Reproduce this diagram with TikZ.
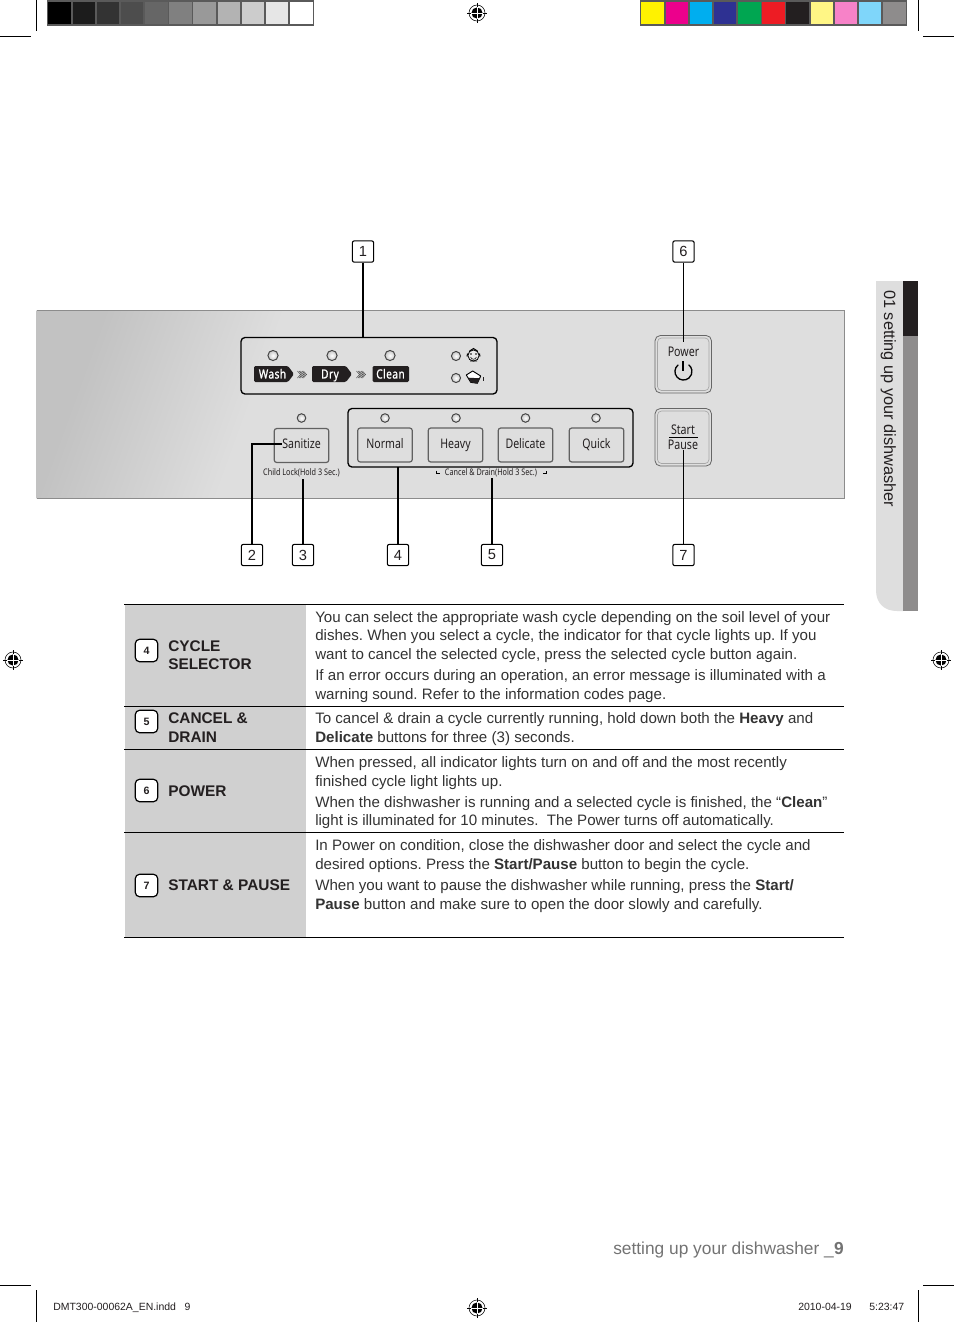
\documentclass[tikz,border=0pt]{standalone}
\usepackage{fontspec}
\setmainfont{Liberation Sans}
\newfontfamily\panelfont[FakeStretch=0.8]{Noto Sans}
\newfontfamily\tagfont[FakeStretch=0.8,FakeBold=1.2,LetterSpace=4]{Noto Sans}
\definecolor{txt}{HTML}{333333}
\definecolor{rowgray}{HTML}{D0D0D0}
\definecolor{panelgray}{HTML}{DEDEDE}
\definecolor{paneldark}{HTML}{C2C2C2}
\definecolor{inkdark}{HTML}{231F20}
\definecolor{stripgray}{HTML}{8E8C8C}
\definecolor{barframe}{HTML}{5A5A5A}
\pgfdeclarehorizontalshading{panelshade}{100bp}{color(0bp)=(paneldark); color(30bp)=(paneldark); color(62bp)=(panelgray); color(100bp)=(panelgray)}
\tikzset{
  body/.style={anchor=base west,inner sep=0pt,text=txt,font=\fontsize{11.33}{13}\selectfont\frenchspacing},
  head/.style={anchor=base west,inner sep=0pt,text=inkdark,font=\fontsize{11.55}{13}\selectfont\bfseries},
  slug/.style={anchor=base west,inner sep=0pt,text=inkdark,font=\fontsize{7.85}{9}\selectfont},
  numbox/.style={draw=black,line width=.8pt,rounded corners=1.5pt,minimum width=16pt,minimum height=16pt,inner sep=0pt,fill=white,font=\fontsize{11}{12}\selectfont,text=inkdark},
  rowbox/.style={draw=black,line width=.9pt,rounded corners=3.5pt,minimum width=17pt,minimum height=17pt,inner sep=0pt,fill=white,font=\fontsize{8}{9}\selectfont\bfseries,text=inkdark},
  panelbox/.style={draw=black,line width=1pt,rounded corners=3pt},
  btn/.style={draw=black!62,line width=.9pt,fill=panelgray,rounded corners=2pt,minimum width=41pt,minimum height=25.5pt,inner sep=0pt,text height=7.2pt,text depth=2pt,font=\panelfont\fontsize{9.9}{10}\selectfont,text=inkdark},
  led/.style={draw=black!72,line width=.75pt,inner color=white,outer color=black!22,circle,inner sep=0pt},
  bigled/.style={led,minimum size=7.6pt},
  smallled/.style={led,minimum size=6.4pt},
  tagtxt/.style={inner sep=0pt,text=white,text height=7pt,text depth=1.8pt,font=\tagfont\fontsize{9.4}{9}\selectfont},
  tiny/.style={inner sep=0pt,text=inkdark,font=\panelfont\fontsize{6.8}{7}\selectfont},
  lead/.style={draw=black,line width=1.1pt},
  thinlead/.style={draw=black,line width=.5pt},
  crop/.style={draw=black,line width=.5pt},
  rule/.style={draw=black,line width=.6pt},
}
\newcommand{\regmark}[2]{%
  \begin{scope}[shift={(#1,#2)}]
    \draw[line width=.4pt] (0,0) circle (8);
    \fill[black] (0,0) circle (5.6);
    \draw[white,line width=.5pt] (-5.6,0) -- (5.6,0) (0,-5.6) -- (0,5.6);
    \draw[line width=.4pt] (-10,0) -- (-5.6,0) (5.6,0) -- (10,0) (0,-10) -- (0,-5.6) (0,5.6) -- (0,10);
  \end{scope}}
\newcommand{\chev}[2]{%
  \begin{scope}[shift={(#1,#2)}]
    \foreach \dx in {0,1.5,3,4.5,6}{\draw[line width=.3pt,black!80] (-4.5+\dx,-3.5) -- (-1.5+\dx,0) -- (-4.5+\dx,3.5);}
  \end{scope}}
\begin{document}
\begin{tikzpicture}[x=.75pt,y=-.75pt]
\useasboundingbox (0,0) rectangle (954,1322);
\fill[white] (0,0) rectangle (954,1322);
% crop marks
\draw[crop] (36,0) -- (36,31) (0,36) -- (31,36) (918,0) -- (918,31) (923,36) -- (954,36)
  (36,1290) -- (36,1322) (0,1285) -- (31,1285) (918,1290) -- (918,1322) (923,1285) -- (954,1285);
% grey bar
\fill[barframe] (47,0) rectangle (314,25.5);
\foreach \a/\b/\c in {47.7/71/000000,73/95/1C1C1C,97/119/333333,121/143/4D4D4D,145/168/666666,169/192/808080,193/216/999999,218/240/B3B3B3,242/264/CCCCCC,266/288/E6E6E6,290/313/FFFFFF}{
  \definecolor{cc}{HTML}{\c}\fill[cc] (\a,2) rectangle (\b,24);}
% colour bar
\fill[barframe] (640,0) rectangle (907,25.5);
\foreach \a/\b/\c in {641/663.7/FFF200,665.7/687.7/EC008C,689.7/712/00AEEF,713.7/736/2E3192,737.7/761/00A651,761.7/785/ED1C24,785.7/809/231F20,811/833/FFF685,835/857/F782C8,859/881/7FD6FA,883/906/8E8C8C}{
  \definecolor{cc}{HTML}{\c}\fill[cc] (\a,2) rectangle (\b,24);}
\regmark{477}{13}\regmark{13}{660}\regmark{941}{660}\regmark{477}{1308}
% side tab
\fill[panelgray] (876,281) -- (903,281) -- (903,611) -- (897,611) .. controls (884,611) and (876,603) .. (876,590) -- cycle;
\fill[stripgray] (903,336) rectangle (918,611);
\fill[inkdark] (903,281) rectangle (918,336);
\node[rotate=-90,anchor=base west,inner sep=0pt,text=inkdark,font=\fontsize{12.25}{13}\selectfont] (tabtext) at (884,290) {01 setting up your dishwasher};
% panel
\shade[shading=panelshade,shading angle=-20] (36.5,310) rectangle (330,498.5);
\fill[panelgray] (330,310) rectangle (844,498.5);
\draw[black!45,line width=.5pt] (36.5,310) -- (844,310) -- (844,498.5) -- (36.5,498.5);
% leaders behind
\node[numbox] (n1) at (363,251.5) {1};
\node[numbox] (n6) at (683.5,251.5) {6};
\node[numbox] (n2) at (252,555) {2};
\node[numbox] (n3) at (303,555) {3};
\node[numbox] (n4) at (398,555) {4};
\node[numbox] (n5) at (492,555) {5};
\node[numbox] (n7) at (683.5,555) {7};
% upper panel
\draw[panelbox] (241,337.5) rectangle (497,394);
\draw[panelbox] (348,408.5) rectangle (633,467);
\coordinate (p1) at (363,337.5);
\draw[lead] (n1) -- (p1);
% status row
\node[bigled] (l1) at (273,355.5) {};
\node[bigled] (l2) at (332,355.5) {};
\node[bigled] (l3) at (390,355.5) {};
\node[smallled,minimum size=6.8pt] (l4) at (456,356) {};
\node[smallled,minimum size=6.8pt] (l5) at (456,378) {};
\fill[inkdark,rounded corners=1pt] (254,366) -- (288,366) -- (294,374) -- (288,382) -- (254,382) -- cycle;
\fill[inkdark,rounded corners=1pt] (312,366) -- (346,366) -- (352,374) -- (346,382) -- (312,382) -- cycle;
\fill[inkdark,rounded corners=1pt] (372.5,366) rectangle (409,382);
\node[tagtxt] (wash) at (272.5,375) {Wash};
\node[tagtxt] (dry) at (330,375) {Dry};
\node[tagtxt] (clean) at (390.5,375) {Clean};
\chev{302}{374.5}\chev{361}{374.5}
% baby icon
\draw[black,line width=.6pt,fill=white!92!black] (473.5,355.5) circle (5.6);
\draw[black,line width=.4pt] (471,354) circle (.6) (476,354) circle (.6) (470.5,357) .. controls (472,360) and (475,360) .. (476.5,357);
\draw[black,line width=.7pt] (467.5,353.5) -- (467,356.5) (479.5,353.5) -- (480,356.5) (469.5,351) -- (473.5,348.5) -- (477.5,351) (470,361) -- (477,361);
% pot icon
\draw[black,line width=.7pt,fill=white,line join=round] (466.3,375) -- (472.7,371) -- (480.7,376) -- (477.3,383.3) -- (470.7,382.3) -- cycle;
\fill[inkdark] (468.3,377.7) -- (480,378.3) -- (477.3,383.3) -- (470.7,382.3) -- cycle;
\fill[inkdark] (482.5,377) rectangle (484,380.7);
% buttons
\node[smallled] (ls) at (301.5,418) {};
\node[btn] (sanitize) at (301.5,445.5) {Sanitize};
\node[smallled] (ln) at (385,418) {};
\node[btn] (normal) at (385,445) {Normal};
\node[smallled] (lh) at (456,418) {};
\node[btn] (heavy) at (455.5,445) {Heavy};
\node[smallled] (ld) at (525.5,418) {};
\node[btn] (delicate) at (525.5,445) {Delicate};
\node[smallled] (lq) at (596,418) {};
\node[btn] (quick) at (596.5,445) {Quick};
\node[tiny] (child) at (301.5,473) {Child Lock(Hold 3 Sec.)};
\node[tiny] (cancel) at (491,473) {Cancel \& Drain(Hold 3 Sec.)};
\draw[black,line width=.4pt] (436.3,470.5) -- (436.3,473.5) -- (440,473.5) (546.5,473.5) -- (543,473.5) (546.5,473.5) -- (546.5,470.5);
% power and start
\draw[black!60,line width=.6pt,fill=panelgray,rounded corners=4pt] (655,335.5) rectangle (711.5,393);
\draw[black!35,line width=.5pt,rounded corners=3pt] (657.5,338) rectangle (709,390.5);
\draw[black!60,line width=.6pt,fill=panelgray,rounded corners=4pt] (655,408.5) rectangle (711.5,466);
\draw[black!35,line width=.5pt,rounded corners=3pt] (657.5,411) rectangle (709,463.5);
\node[inner sep=0pt,text=inkdark,font=\panelfont\fontsize{10}{10}\selectfont] (power) at (683.5,351.5) {Power};
\draw[black,line width=1pt,line cap=round] (678,365) arc[start angle=-130,end angle=-410,radius=8.5];
\draw[black,line width=1pt] (683,361) -- (683,371);
\node[inner sep=0pt,text=inkdark,font=\panelfont\fontsize{10}{10}\selectfont] (start) at (683,429.5) {Start};
\draw[black,line width=.6pt] (669,437) -- (698,437);
\node[inner sep=0pt,text=inkdark,font=\panelfont\fontsize{10}{10}\selectfont] (pause) at (683,444.5) {Pause};
% connectors
\coordinate (c2) at (282,444);
\coordinate (c3) at (303,479);
\coordinate (c4) at (398,467);
\coordinate (c5) at (492,478);
\coordinate (c6) at (683.5,342);
\coordinate (c7) at (683.5,450);
\draw[lead] (n2.north) |- (c2);
\draw[lead] (n3.north) -- (c3);
\draw[lead] (n4.north) -- (c4);
\draw[lead] (n5.north) -- (c5);
\draw[thinlead] (n6) -- (c6);
\draw[thinlead] (n7) -- (c7);
% table
\fill[rowgray] (125,605) rectangle (305.5,937);
\draw[rule] (124,604.5) -- (844,604.5) (124,706.5) -- (844,706.5) (124,749.5) -- (844,749.5) (124,832.5) -- (844,832.5) (124,937.5) -- (844,937.5);
\node[rowbox] (r4) at (146.5,650.5) {4};
\node[rowbox] (r5) at (146.5,721.5) {5};
\node[rowbox] (r6) at (146.5,790.5) {6};
\node[rowbox] (r7) at (146.5,885.5) {7};
\node[head] (h4a) at (168,651) {CYCLE};
\node[head] (h4b) at (168,669) {SELECTOR};
\node[head] (h5a) at (168,723) {CANCEL \&};
\node[head] (h5b) at (168,742) {DRAIN};
\node[head] (h6) at (168,796) {POWER};
\node[head] (h7) at (168,890) {START \& PAUSE};
\node[body] (t1) at (315,622) {You can select the appropriate wash cycle depending on the soil level of your};
\node[body] (t2) at (315,640) {dishes. When you select a cycle, the indicator for that cycle lights up. If you};
\node[body] (t3) at (315,659) {want to cancel the selected cycle, press the selected cycle button again.};
\node[body] (t4) at (315,680) {If an error occurs during an operation, an error message is illuminated with a};
\node[body] (t5) at (315,699) {warning sound. Refer to the information codes page.};
\node[body] (t6) at (315,723) {To cancel \& drain a cycle currently running, hold down both the \textbf{Heavy} and};
\node[body] (t7) at (315,742) {\textbf{Delicate} buttons for three (3) seconds.};
\node[body] (t8) at (315,767) {When pressed, all indicator lights turn on and off and the most recently};
\node[body] (t9) at (315,786) {finished cycle light lights up.};
\node[body] (t10) at (315,807) {When the dishwasher is running and a selected cycle is finished, the “\textbf{Clean}”};
\node[body] (t11) at (315,825) {light is illuminated for 10 minutes.\ \ The Power turns off automatically.};
\node[body] (t12) at (315,850) {In Power on condition, close the dishwasher door and select the cycle and};
\node[body] (t13) at (315,869) {desired options. Press the \textbf{Start/Pause} button to begin the cycle.};
\node[body] (t14) at (315,890) {When you want to pause the dishwasher while running, press the \textbf{Start/}};
\node[body] (t15) at (315,909) {\textbf{Pause} button and make sure to open the door slowly and carefully.};
% footer
\node[anchor=base east,inner sep=0pt,text=black!55,font=\fontsize{13}{14}\selectfont] (foot) at (844,1254) {setting up your dishwasher \_\textbf{9}};
\node[slug] (s1) at (53,1310) {DMT300-00062A\_EN.indd\ \ \ 9};
\node[slug] (s2) at (798,1310) {2010-04-19};
\node[slug] (s3) at (869,1310) {5:23:47};
\end{tikzpicture}
\end{document}
